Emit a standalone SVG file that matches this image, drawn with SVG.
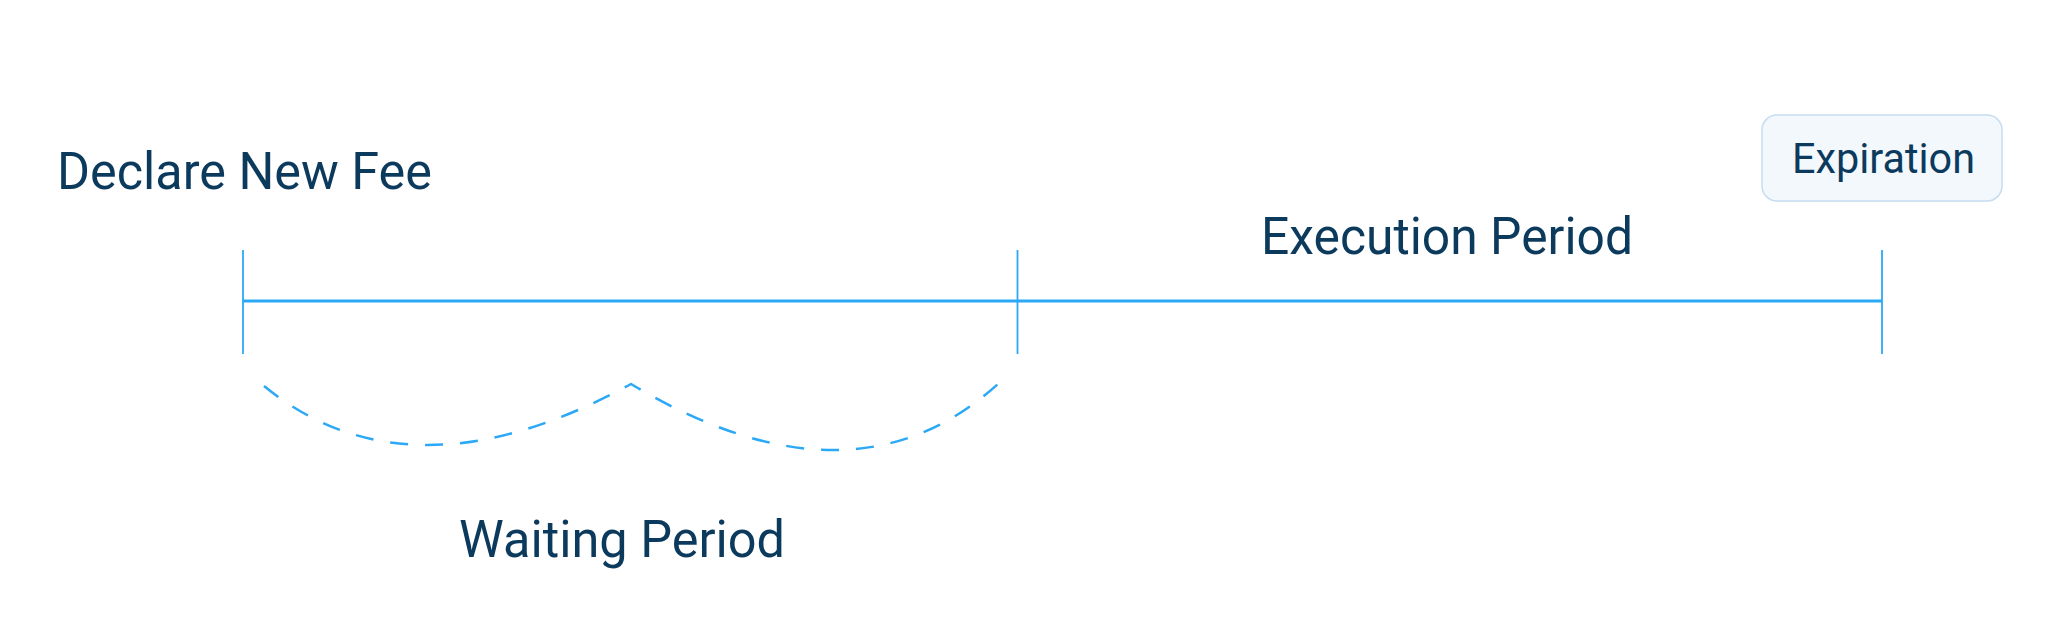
<svg xmlns="http://www.w3.org/2000/svg" width="2048" height="625" viewBox="0 0 2048 625">
  <style>
    .lbl { font-family: Roboto, "Liberation Sans", sans-serif; fill: #0b3a5d; }
    .big { font-size: 52px; }
    .small { font-size: 42px; }
    .axis { stroke: #2ba8f6; stroke-width: 3; fill: none; }
    .tick { stroke: #2ba8f6; stroke-width: 1.8; fill: none; }
    .dash { stroke: #2ba8f6; stroke-width: 2.5; fill: none; stroke-dasharray: 18 17; }
  </style>
  <rect width="2048" height="625" fill="#ffffff"/>
  <g id="connectors">
    <line class="axis" x1="243" y1="301" x2="1882" y2="301"/>
    <line class="tick" x1="243" y1="250" x2="243" y2="354"/>
    <line class="tick" x1="1017.5" y1="250" x2="1017.5" y2="354"/>
    <line class="tick" x1="1882" y1="250" x2="1882" y2="354"/>
    <path class="dash" d="M264,386 Q410,505 631,384 Q852,516 998,384"/>
  </g>
  <g id="declare">
    <text class="lbl big" x="57" y="189" textLength="375" lengthAdjust="spacingAndGlyphs">Declare New Fee</text>
  </g>
  <g id="execution">
    <text class="lbl big" x="1261" y="254" textLength="372" lengthAdjust="spacingAndGlyphs">Execution Period</text>
  </g>
  <g id="waiting">
    <text class="lbl big" x="459" y="557" textLength="326" lengthAdjust="spacingAndGlyphs">Waiting Period</text>
  </g>
  <g id="expiration">
    <rect x="1762" y="115" width="240" height="86" rx="15" ry="15" fill="#f3f8fd" stroke="#c6dcf1" stroke-width="1.5"/>
    <text class="lbl small" x="1792" y="173" textLength="183" lengthAdjust="spacingAndGlyphs">Expiration</text>
  </g>
</svg>
